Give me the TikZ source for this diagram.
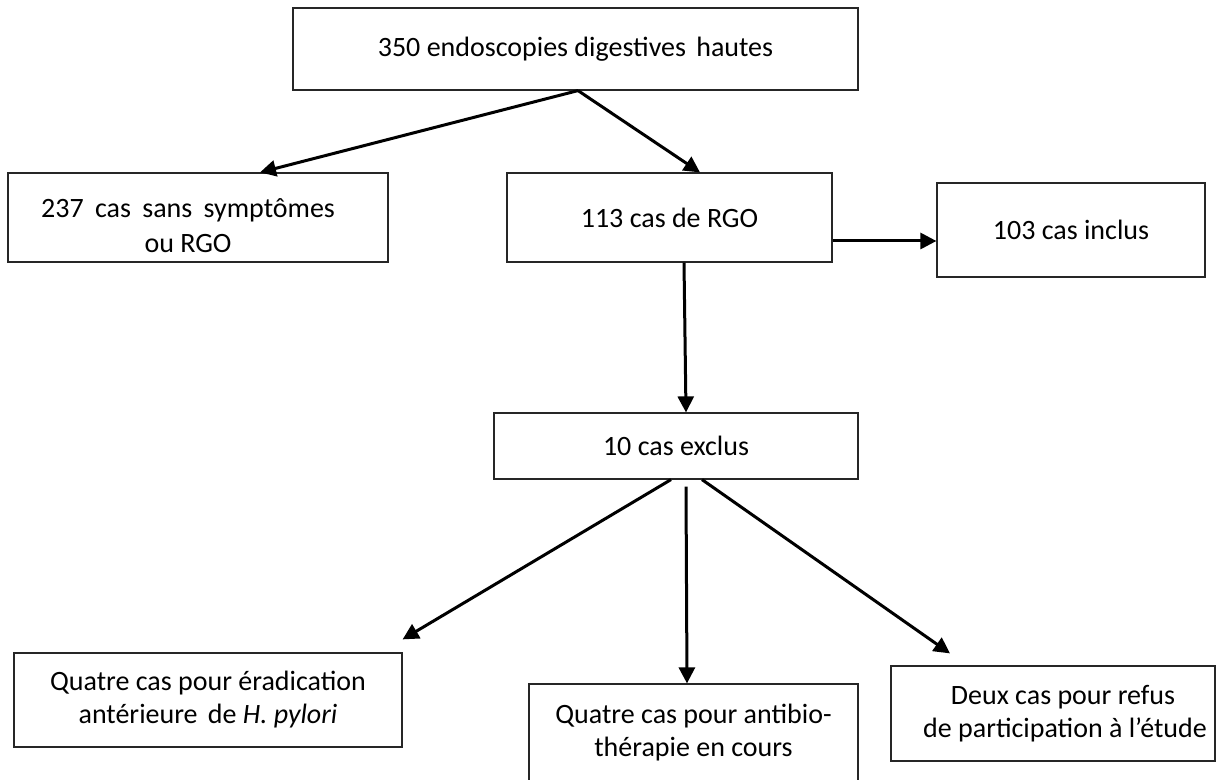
\documentclass[tikz,border=0pt]{standalone}
\usepackage{fontspec}
\setmainfont{Carlito}
\usetikzlibrary{arrows.meta}
\begin{document}
\begin{tikzpicture}[x=0.5pt,y=-0.5pt,
  box/.style={draw=black!85, line width=0.6pt, inner sep=0pt, align=center,
    font=\fontsize{14}{16.5}\selectfont},
  arr/.style={line width=1.5pt, -{Triangle[length=8pt,width=8pt]}}]
\useasboundingbox[fill=white] (0,0) rectangle (1216,780);
\node[box, minimum width=282.5pt, minimum height=41pt] (A) at (575.5,49)
  {350 endoscopies digestives\hspace{2pt} hautes};
\node[box, minimum width=190pt, minimum height=44.5pt,
  font=\fontsize{14}{17.5}\selectfont] (B) at (198,217.5)
  {\rule{0pt}{18pt}237\hspace{2.5pt} cas\hspace{2.5pt} sans\hspace{2.5pt} symptômes\hspace*{10pt}\\ou RGO\hspace*{10pt}};
\node[box, minimum width=162.5pt, minimum height=44.5pt] (C) at (669.5,217.5)
  {113 cas de RGO};
\node[box, minimum width=134pt, minimum height=47pt] (D) at (1071,230)
  {103 cas inclus};
\node[box, minimum width=182pt, minimum height=33pt] (E) at (676,446)
  {10 cas exclus};
\node[box, minimum width=194pt, minimum height=47pt] (F) at (208,700)
  {Quatre cas pour éradication\\antérieure\hspace{2pt} de \textit{H. pylori}};
\node[box, minimum width=164.5pt, minimum height=48.5pt] (G) at (693.5,732.5)
  {Quatre cas pour antibio-\\thérapie en cours};
\node[box, minimum width=162pt, minimum height=47.5pt] (H) at (1053,713.5)
  {\hspace*{10pt}Deux cas pour refus\\\hspace*{12pt}de participation à l’étude};
\draw[arr] ([xshift=1.25pt]A.south) -- ([xshift=31pt]B.north);
\draw[arr] ([xshift=1.25pt]A.south) -- ([xshift=15.25pt]C.north);
\draw[arr] ([yshift=-11.75pt]C.east) -- ([yshift=-5.5pt]D.west);
\draw[arr] ([xshift=7.25pt]C.south) -- ([xshift=5pt]E.north);
\draw[arr] ([xshift=-2.5pt]E.south) -- ([yshift=6.5pt]F.north east);
\draw[arr] ([xshift=5pt,yshift=-3.5pt]E.south) -- ([xshift=-3.25pt]G.north);
\draw[arr] ([xshift=13pt]E.south) -- ([xshift=-51.5pt,yshift=6pt]H.north);
\end{tikzpicture}
\end{document}
